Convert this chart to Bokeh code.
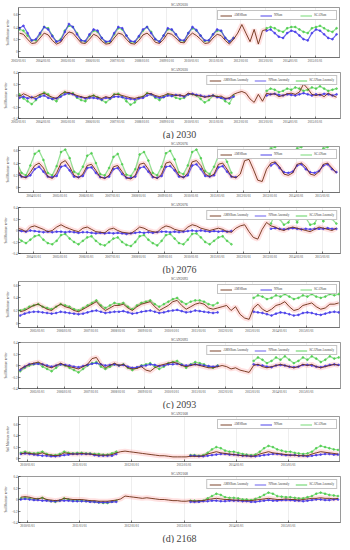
import pandas as pd
from bokeh.plotting import figure
from bokeh.models import (Range1d, FixedTicker, DatetimeTickFormatter, Legend,
                          LegendItem, Title, ColumnDataSource)
from bokeh.layouts import column
from bokeh.embed import file_html
from bokeh.resources import INLINE

nan = float("nan")

# ---------------- data ----------------
# (a) SCAN2030 : bimonthly from 2003-01
a_start = "2003-01-01"
a_years = list(range(2003, 2016))
a_amsr = [0.30,0.28,0.20,0.13,0.14,0.22, 0.30,0.27,0.18,0.12,0.15,0.25,
          0.32,0.30,0.22,0.14,0.13,0.20, 0.28,0.25,0.17,0.12,0.13,0.22,
          0.30,0.28,0.20,0.13,0.12,0.18, 0.27,0.30,0.24,0.15,0.13,0.20,
          0.30,0.28,0.22,0.15,0.14,0.24, 0.30,0.26,0.20,0.13,0.14,0.22,
          0.28,0.26,0.18,0.12,0.20,0.30, 0.44,0.30,0.16,0.36,0.12,0.34,
          0.36,nan,nan,nan,nan,nan, nan,nan,nan,nan,nan,nan,
          nan,nan,nan,nan,nan,nan]
a_nn = [0.38,0.42,0.30,0.18,0.20,0.30, 0.40,0.36,0.25,0.16,0.18,0.32,
        0.45,0.40,0.28,0.18,0.17,0.28, 0.36,0.34,0.22,0.16,0.17,0.30,
        0.40,0.38,0.26,0.17,0.16,0.25, 0.36,0.40,0.30,0.20,0.16,0.26,
        0.38,0.36,0.28,0.19,0.18,0.30, 0.40,0.35,0.26,0.18,0.18,0.28,
        0.36,0.34,0.22,0.16,0.22,nan, nan,nan,nan,nan,nan,nan,
        0.34,0.36,0.30,0.24,0.22,0.30, 0.34,0.32,0.26,0.20,0.18,0.30,
        0.36,0.34,0.28,0.22,0.20,0.28]
a_scan = [0.36,0.34,0.26,0.18,0.18,0.28, 0.40,0.38,0.26,0.16,0.20,0.34,
          0.42,0.40,0.30,0.18,0.16,0.26, 0.34,0.32,0.22,0.15,0.16,0.28,
          0.38,0.36,0.26,0.16,0.15,0.24, 0.34,0.40,0.32,0.20,0.16,0.26,
          0.36,0.35,0.28,0.18,0.17,0.30, 0.38,0.34,0.26,0.17,0.18,0.28,
          0.34,0.33,0.22,0.16,0.22,nan, nan,nan,nan,nan,nan,nan,
          0.38,0.40,0.38,0.34,0.32,0.38, 0.40,0.40,0.36,0.32,0.30,0.38,
          0.40,0.42,0.38,0.34,0.32,0.38]
a_amsr_anom = [-0.02,0.03,0.00,-0.04,-0.02,0.02, 0.04,0.00,-0.03,-0.05,0.02,0.06,
               0.05,0.03,0.00,-0.02,-0.04,-0.02, 0.00,-0.03,-0.05,-0.02,-0.04,0.02,
               0.02,0.00,-0.02,-0.04,-0.05,-0.03, -0.02,0.04,0.03,0.00,-0.02,0.00,
               0.03,0.02,0.00,0.01,-0.01,0.04, 0.02,0.00,-0.01,-0.03,-0.02,0.00,
               -0.02,-0.01,-0.05,-0.04,0.02,0.05, 0.07,0.04,-0.06,-0.12,0.02,-0.10,
               0.04,0.02,0.03,-0.02,0.00,0.03, 0.04,0.02,0.06,0.20,0.12,0.02,
               0.00,0.02,-0.02,0.04,0.00,-0.03]
a_nn_anom = [-0.04,-0.02,-0.05,-0.03,-0.06,-0.02, 0.00,-0.04,-0.06,-0.05,-0.02,0.02,
             0.04,0.02,-0.02,-0.03,-0.05,-0.04, -0.04,-0.05,-0.07,-0.04,-0.05,-0.02,
             -0.02,-0.03,-0.05,-0.06,-0.07,-0.05, -0.04,0.00,0.02,-0.02,-0.04,-0.03,
             0.00,-0.01,0.01,0.00,-0.02,0.02, 0.03,0.01,0.00,-0.02,-0.01,0.00,
             -0.03,-0.04,-0.06,-0.05,-0.02,nan, nan,nan,nan,nan,nan,nan,
             0.00,0.02,0.03,0.01,0.00,0.02, 0.01,0.00,0.02,0.04,0.02,0.00,
             0.02,0.01,0.03,0.02,0.00,0.02]
a_scan_anom = [0.02,-0.05,-0.10,-0.15,-0.08,0.00, 0.05,0.02,-0.06,-0.10,0.00,0.06,
               0.03,0.04,-0.04,-0.08,-0.10,-0.02, 0.00,-0.03,-0.08,-0.12,-0.06,0.02,
               0.03,-0.02,-0.10,-0.16,-0.12,-0.04, -0.02,0.04,0.02,-0.04,-0.08,-0.02,
               0.02,0.00,-0.04,-0.06,-0.04,0.02, 0.02,0.00,-0.06,-0.12,-0.08,0.00,
               -0.02,-0.04,-0.10,-0.14,0.00,nan, nan,nan,nan,nan,nan,nan,
               0.08,0.12,0.10,0.06,0.08,0.12, 0.10,0.14,0.12,0.08,0.10,0.14,
               0.12,0.16,0.12,0.08,0.10,0.12]

# (b) SCAN2076 : bimonthly from 2003-05
b_start = "2003-05-01"
b_years = list(range(2004, 2016))
b_amsr = [0.30,0.18,0.16,0.25,
          0.36,0.40,0.32,0.18,0.15,0.24, 0.40,0.44,0.34,0.20,0.16,0.22,
          0.36,0.38,0.28,0.17,0.15,0.20, 0.34,0.36,0.26,0.16,0.14,0.20,
          0.38,0.40,0.30,0.18,0.15,0.22, 0.40,0.42,0.32,0.20,0.16,0.24,
          0.42,0.44,0.36,0.22,0.18,0.22, 0.38,0.40,0.30,0.18,0.16,0.22,
          0.44,0.46,0.30,0.12,0.10,0.30, 0.40,0.42,0.34,0.22,0.20,0.24,
          0.38,0.40,0.34,0.22,0.20,0.26,
          0.38,0.40,0.32,0.24]
b_nn = [0.26,0.18,0.17,0.20,
        0.30,0.34,0.26,0.18,0.17,0.19, 0.34,0.36,0.28,0.18,0.17,0.19,
        0.32,0.33,0.24,0.17,0.16,0.18, 0.30,0.32,0.22,0.16,0.16,0.18,
        0.32,0.34,0.26,0.17,0.16,0.19, 0.34,0.35,0.28,0.18,0.17,0.20,
        0.36,0.38,0.30,0.19,0.18,0.20, 0.33,0.35,0.26,0.18,0.17,nan,
        nan,nan,nan,nan,nan,nan, 0.36,0.40,0.32,0.25,0.24,0.26,
        0.36,0.38,0.30,0.25,0.24,0.27,
        0.36,0.38,0.30,0.25]
b_scan = [0.40,0.24,0.20,0.36,
          0.55,0.60,0.45,0.24,0.20,0.35, 0.58,0.62,0.48,0.26,0.22,0.34,
          0.52,0.56,0.40,0.22,0.20,0.32, 0.50,0.55,0.38,0.21,0.19,0.30,
          0.54,0.58,0.44,0.24,0.20,0.34, 0.56,0.60,0.46,0.25,0.22,0.36,
          0.58,0.62,0.48,0.27,0.22,0.34, 0.52,0.56,0.42,0.24,nan,nan,
          nan,nan,nan,nan,nan,nan, 0.64,0.66,nan,nan,nan,nan,
          0.64,0.66,nan,nan,nan,nan,
          0.64,0.66,nan,nan]
b_amsr_anom = [0.04,0.02,-0.02,0.06,
               0.08,0.05,0.02,-0.02,0.00,0.06, 0.10,0.06,0.03,0.00,-0.02,0.04,
               0.06,0.02,-0.02,-0.03,-0.04,0.02, 0.04,0.00,-0.03,-0.04,-0.05,0.00,
               0.06,0.04,0.00,-0.02,-0.03,0.04, 0.08,0.06,0.02,0.00,-0.01,0.06,
               0.10,0.08,0.04,0.02,0.00,0.02, 0.04,0.02,-0.02,-0.03,0.04,0.08,
               0.10,-0.02,-0.12,-0.15,0.02,0.14, 0.08,0.06,0.02,0.00,0.04,0.06,
               0.04,0.02,0.00,-0.02,0.02,0.06,
               0.04,0.02,0.00,0.04]
b_nn_anom = [0.00,-0.01,-0.02,0.00,
             -0.01,-0.02,-0.03,-0.02,-0.03,-0.02, -0.02,-0.03,-0.02,-0.03,-0.04,-0.03,
             -0.03,-0.04,-0.05,-0.04,-0.05,-0.04, -0.05,-0.04,-0.05,-0.06,-0.05,-0.04,
             -0.03,-0.04,-0.03,-0.04,-0.03,-0.02, -0.02,-0.03,-0.02,-0.03,-0.02,-0.01,
             0.00,-0.01,0.00,-0.01,-0.02,-0.01, -0.02,-0.01,-0.02,-0.01,nan,nan,
             nan,nan,nan,nan,nan,nan, 0.03,0.04,0.03,0.02,0.03,0.04,
             0.03,0.02,0.03,0.02,0.03,0.03,
             0.03,0.04,0.03,0.03]
b_scan_anom = [-0.12,-0.18,-0.22,-0.16,
               -0.10,-0.08,-0.16,-0.22,-0.24,-0.18, -0.08,-0.06,-0.14,-0.20,-0.24,-0.18,
               -0.12,-0.10,-0.18,-0.24,-0.26,-0.20, -0.14,-0.12,-0.20,-0.25,-0.27,-0.20,
               -0.10,-0.08,-0.16,-0.22,-0.26,-0.18, -0.08,-0.06,-0.14,-0.22,-0.24,-0.16,
               -0.06,-0.05,-0.12,-0.20,-0.24,-0.18, -0.12,-0.10,-0.18,-0.24,nan,nan,
               nan,nan,nan,nan,nan,nan, 0.12,0.30,0.20,0.10,0.14,0.30,
               0.14,0.32,0.22,0.10,0.12,0.28,
               0.16,0.30,0.20,0.12]

# (c) SCAN2093 : bimonthly from 2004-05
c_start = "2004-05-01"
c_years = list(range(2005, 2016))
c_amsr = [0.18,0.20,0.24,0.28,
          0.30,0.26,0.22,0.20,0.26,0.30, 0.26,0.24,0.20,0.18,0.22,0.26,
          0.30,0.34,0.26,0.20,0.24,0.28, 0.28,0.30,0.24,0.20,0.26,0.30,
          0.32,0.34,0.26,0.20,0.24,0.28, 0.34,0.36,0.28,0.22,0.26,0.30,
          0.32,0.30,0.24,0.22,0.24,0.26, 0.28,0.20,0.26,0.14,0.08,0.06,
          0.24,0.30,0.22,0.18,0.22,0.28, 0.30,0.34,0.26,0.20,0.22,0.28,
          0.30,0.32,0.26,0.22,0.24,0.30,
          0.30,0.32]
c_nn = [0.12,0.15,0.17,0.18,
        0.18,0.17,0.16,0.15,0.16,0.18, 0.17,0.16,0.15,0.14,0.15,0.17,
        0.19,0.20,0.18,0.16,0.17,0.18, 0.18,0.19,0.17,0.15,0.16,0.18,
        0.19,0.20,0.18,0.16,0.17,0.19, 0.20,0.21,0.19,0.17,0.18,0.20,
        0.19,0.18,0.17,0.16,0.17,nan, nan,nan,nan,nan,nan,nan,
        0.18,0.17,0.16,0.14,0.12,0.15, 0.17,0.16,0.14,0.12,0.13,0.16,
        0.17,0.16,0.14,0.13,0.15,0.17,
        0.18,0.17]
c_scan = [0.20,0.22,0.26,0.28,
          0.30,0.26,0.24,0.22,0.26,0.30, 0.28,0.26,0.22,0.20,0.24,0.28,
          0.32,0.36,0.28,0.24,0.28,0.32, 0.30,0.32,0.26,0.22,0.28,0.32,
          0.34,0.36,0.30,0.26,0.30,0.34, 0.38,0.40,0.34,0.30,0.34,0.36,
          0.36,0.34,0.30,0.28,0.32,nan, nan,nan,nan,nan,nan,nan,
          0.40,0.44,0.42,0.38,0.40,0.44, 0.42,0.46,0.42,0.38,0.40,0.44,
          0.42,0.46,0.42,0.40,0.42,0.46,
          0.44,0.46]
c_amsr_anom = [-0.06,-0.02,0.02,0.04,
               0.06,0.02,-0.02,-0.04,0.00,0.04, 0.00,-0.02,-0.04,-0.06,-0.02,0.02,
               0.12,0.14,0.02,-0.04,0.00,0.04, 0.00,0.02,-0.04,-0.06,-0.05,-0.02,
               -0.08,-0.10,-0.04,0.00,0.02,0.04, 0.06,0.04,0.00,-0.02,0.00,0.02,
               0.00,-0.02,-0.04,-0.04,-0.02,0.00, -0.02,-0.06,-0.04,-0.08,-0.10,-0.12,
               0.00,0.02,-0.02,-0.04,-0.02,0.00, 0.02,0.00,-0.02,-0.04,-0.02,0.02,
               0.00,0.02,-0.02,-0.04,-0.02,0.00,
               0.02,0.00]
c_nn_anom = [-0.08,-0.02,0.02,0.03,
             0.03,0.02,0.00,-0.02,0.00,0.02, 0.01,0.00,-0.02,-0.03,-0.01,0.01,
             0.03,0.04,0.02,0.00,0.01,0.02, 0.00,0.01,-0.02,-0.04,-0.03,-0.01,
             0.00,0.02,0.01,-0.01,0.00,0.02, 0.02,0.03,0.01,0.00,0.01,0.02,
             0.01,0.00,-0.01,-0.02,-0.01,nan, nan,nan,nan,nan,nan,nan,
             0.02,0.01,0.00,-0.02,-0.03,0.00, 0.01,0.00,-0.02,-0.03,-0.02,0.01,
             0.01,0.00,-0.02,-0.03,-0.01,0.01,
             0.02,0.01]
c_scan_anom = [-0.10,-0.04,0.00,0.02,
               0.04,-0.02,-0.06,-0.10,-0.04,0.02, 0.00,-0.04,-0.08,-0.12,-0.06,0.00,
               0.04,0.06,-0.02,-0.06,-0.02,0.02, 0.00,0.02,-0.04,-0.08,-0.04,0.00,
               0.02,0.04,-0.02,-0.06,-0.02,0.04, 0.06,0.08,0.02,-0.04,0.02,0.06,
               0.04,0.02,-0.02,-0.04,0.00,nan, nan,nan,nan,nan,nan,nan,
               0.08,0.14,0.10,0.04,0.08,0.14, 0.10,0.16,0.10,0.04,0.08,0.14,
               0.10,0.16,0.12,0.06,0.10,0.16,
               0.12,0.14]

# (d) SCAN2168 : monthly from 2009-11
d_start = "2009-11-01"
d_years = list(range(2010, 2016))
d_amsr = [0.08,0.10,
          0.09,0.08,0.08,0.10,0.07,0.06,0.05,0.06,0.10,0.09,0.08,0.08,
          0.09,0.08,0.08,0.07,0.06,0.06,0.06,0.07,0.10,0.12,0.13,0.12,
          0.11,0.10,0.09,0.08,0.07,0.06,0.05,0.05,0.04,0.03,0.03,0.03,
          0.03,0.04,0.04,0.04,0.05,0.08,0.10,0.12,0.10,0.09,0.08,0.07,
          0.06,0.05,0.05,0.04,0.05,0.08,0.10,0.12,0.10,0.09,0.08,0.07,
          0.06,0.06,0.05,0.05,0.05,0.08,0.10,0.12,0.11,0.10,0.09,0.08]
d_nn = [0.08,0.09,
        0.08,0.07,0.06,0.05,0.05,0.04,0.04,0.05,0.06,0.07,0.08,0.08,
        0.08,0.08,0.08,0.06,0.05,0.05,0.05,0.05,0.08,nan,nan,nan,
        nan,nan,nan,nan,nan,nan,nan,nan,nan,nan,nan,nan,
        nan,0.05,0.05,0.04,0.04,0.05,0.06,0.07,0.08,0.08,0.07,0.07,
        0.06,0.05,0.05,0.04,0.04,0.05,0.06,0.07,0.08,0.08,0.07,0.06,
        0.06,0.06,0.05,0.05,0.04,0.05,0.06,0.07,0.08,0.08,0.07,0.07]
d_scan = [0.10,0.12,
          0.10,0.09,0.10,0.12,0.08,0.06,0.06,0.08,0.12,0.10,0.09,0.10,
          0.10,0.09,0.09,0.08,0.08,0.07,0.07,0.09,0.12,nan,nan,nan,
          nan,nan,nan,nan,nan,nan,nan,nan,nan,nan,nan,nan,
          nan,0.06,0.06,0.05,0.06,0.10,0.16,0.20,0.18,0.14,0.12,0.12,
          0.10,0.08,0.07,0.06,0.07,0.12,0.18,0.22,0.20,0.16,0.14,0.12,
          0.12,0.10,0.09,0.08,0.09,0.12,0.18,0.22,0.20,0.18,0.16,0.15]
d_amsr_anom = [0.04,0.05,
               0.04,0.02,0.01,0.03,0.00,-0.01,-0.02,-0.01,0.02,0.01,0.00,0.00,
               0.00,-0.01,-0.02,-0.02,-0.03,-0.03,-0.03,-0.02,-0.01,0.01,0.06,0.05,
               0.04,0.03,0.02,0.03,0.02,0.01,0.00,0.00,-0.01,-0.02,-0.02,-0.03,
               -0.03,-0.02,-0.03,-0.02,-0.02,0.00,0.01,0.02,0.01,0.00,0.00,-0.01,
               -0.01,-0.02,-0.02,-0.02,-0.01,0.00,0.01,0.02,0.01,0.00,0.00,0.01,
               0.00,0.00,-0.01,0.00,0.01,0.02,0.02,0.03,0.02,0.02,0.01,0.02]
d_nn_anom = [0.00,0.01,
             0.00,-0.01,-0.01,-0.02,-0.02,-0.03,-0.03,-0.02,-0.02,-0.02,-0.03,-0.03,
             -0.03,-0.03,-0.04,-0.04,-0.05,-0.05,-0.05,-0.04,-0.04,nan,nan,nan,
             nan,nan,nan,nan,nan,nan,nan,nan,nan,nan,nan,nan,
             nan,-0.04,-0.04,-0.04,-0.03,-0.03,-0.02,-0.02,-0.03,-0.03,-0.02,-0.02,
             -0.02,-0.03,-0.03,-0.04,-0.04,-0.03,-0.02,-0.01,-0.02,-0.02,-0.01,-0.01,
             -0.01,-0.02,-0.02,-0.03,-0.02,-0.01,0.00,0.00,-0.01,-0.01,0.00,0.00]
d_scan_anom = [0.02,0.03,
               0.02,0.00,0.01,0.03,-0.01,-0.03,-0.04,-0.02,0.02,0.00,-0.02,-0.02,
               -0.02,-0.03,-0.03,-0.04,-0.05,-0.06,-0.06,-0.04,-0.02,nan,nan,nan,
               nan,nan,nan,nan,nan,nan,nan,nan,nan,nan,nan,nan,
               nan,-0.02,-0.02,-0.03,-0.02,0.02,0.06,0.10,0.08,0.04,0.03,0.03,
               0.02,0.00,0.00,-0.01,0.01,0.04,0.08,0.12,0.10,0.06,0.05,0.04,
               0.04,0.03,0.02,0.02,0.04,0.06,0.10,0.12,0.10,0.08,0.07,0.06]

top_ticks = [0, 0.2, 0.4, 0.6]
anom_ticks = [-0.4, -0.2, 0, 0.2, 0.4]

# ---------------- styling ----------------
BROWN = "#6e2f14"
PINK = "#ff9a9a"
BLUE = "#4338e8"
GREEN = "#3cc83c"
SERIF = "Liberation Serif"
FW = 322


def times(start, n, freq):
    return pd.date_range(start, periods=n, freq=freq) + pd.Timedelta(days=14)


def panel(title, start, freq, amsr, nn, scan, xr, yr, yticks, years, labels,
          frame_h, bottom=8, caption=None):
    assert len(amsr) == len(nn) == len(scan)
    src = ColumnDataSource(dict(t=times(start, len(amsr), freq),
                                amsr=amsr, nn=nn, scan=scan))
    p = figure(frame_width=FW, frame_height=frame_h, x_axis_type="datetime",
               output_backend="svg", toolbar_location=None,
               x_range=Range1d(pd.Timestamp(xr[0]), pd.Timestamp(xr[1])),
               y_range=Range1d(*yr),
               min_border_left=10, min_border_right=2,
               min_border_top=6, min_border_bottom=bottom,
               background_fill_color="white", border_fill_color="white")
    p.title.text = title
    p.title.align = "center"
    p.title.text_font = SERIF
    p.title.text_font_size = "3.6px"
    p.title.text_font_style = "normal"
    p.title.standoff = 1
    p.outline_line_color = "#555555"
    p.outline_line_width = 0.6

    p.line("t", "amsr", source=src, color=PINK, line_width=5, alpha=0.3)
    p.scatter("t", "scan", source=src, size=1.8, color=GREEN, alpha=0.6)
    l_scan = p.line("t", "scan", source=src, color=GREEN, line_width=1.3, alpha=0.55)
    p.scatter("t", "nn", source=src, size=1.8, color=BLUE, alpha=0.7)
    l_nn = p.line("t", "nn", source=src, color=BLUE, line_width=1.2, alpha=0.8)
    l_amsr = p.line("t", "amsr", source=src, color=BROWN, line_width=1.0, alpha=0.9)

    tick_ms = [pd.Timestamp(f"{y}-01-01").value / 1e6 for y in years]
    p.xaxis.ticker = FixedTicker(ticks=tick_ms)
    fmt = "%Y/%m/%d"
    p.xaxis.formatter = DatetimeTickFormatter(
        years=fmt, months=fmt, days=fmt, hours=fmt, minutes=fmt,
        seconds=fmt, milliseconds=fmt, microseconds=fmt, hourmin=fmt,
        minsec=fmt)
    p.yaxis.ticker = FixedTicker(ticks=yticks)
    p.yaxis.axis_label = "Soil Moisture m\u00b3/m\u00b3"
    for ax in (p.xaxis, p.yaxis):
        ax.major_label_text_font = SERIF
        ax.major_label_text_font_size = "3.2px"
        ax.axis_label_text_font = SERIF
        ax.axis_label_text_font_size = "3.2px"
        ax.axis_label_text_font_style = "normal"
        ax.axis_label_standoff = 1
        ax.major_label_standoff = 1
        ax.major_tick_in = 2
        ax.major_tick_out = 0
        ax.minor_tick_line_color = None
        ax.axis_line_color = "#555555"
        ax.axis_line_width = 0.6
        ax.major_tick_line_width = 0.5
    p.xgrid.grid_line_color = "#bbbbbb"
    p.xgrid.grid_line_dash = "1 1"
    p.xgrid.grid_line_width = 0.5
    p.ygrid.grid_line_color = None

    legend = Legend(items=[LegendItem(label=labels[0], renderers=[l_amsr]),
                           LegendItem(label=labels[1], renderers=[l_nn]),
                           LegendItem(label=labels[2], renderers=[l_scan])],
                    orientation="horizontal", location="top_right",
                    label_text_font=SERIF, label_text_font_size="3.2px",
                    glyph_width=12, glyph_height=3, label_height=3,
                    label_width=20, label_standoff=2, spacing=6,
                    padding=2, margin=3, border_line_color="#888888",
                    border_line_width=0.5, background_fill_alpha=1)
    p.add_layout(legend)
    if caption:
        p.add_layout(Title(text=caption, align="center", text_font=SERIF,
                           text_font_size="10px", text_font_style="normal",
                           standoff=0), "below")
    return p


L1 = ["AMSRsm", "NNsm", "SCANsm"]
L2 = ["AMSRsm Anomaly", "NNsm Anomaly", "SCANsm Anomaly"]

figs = [
    panel("SCAN2030", a_start, "2MS", a_amsr, a_nn, a_scan,
          ("2003-01-01", "2016-01-12"), (-0.1, 0.72), top_ticks, a_years, L1, 50),
    panel("SCAN2030", a_start, "2MS", a_amsr_anom, a_nn_anom, a_scan_anom,
          ("2003-01-01", "2016-01-12"), (-0.4, 0.4), anom_ticks, a_years, L2, 46,
          bottom=21, caption="(a) 2030"),
    panel("SCAN2076", b_start, "2MS", b_amsr, b_nn, b_scan,
          ("2003-06-03", "2015-09-10"), (-0.08, 0.67), top_ticks, b_years, L1, 46),
    panel("SCAN2076", b_start, "2MS", b_amsr_anom, b_nn_anom, b_scan_anom,
          ("2003-06-03", "2015-09-10"), (-0.4, 0.4), anom_ticks, b_years, L2, 46,
          bottom=21, caption="(b) 2076"),
    panel("SCAN2093", c_start, "2MS", c_amsr, c_nn, c_scan,
          ("2004-04-22", "2016-04-08"), (-0.07, 0.66), top_ticks, c_years, L1, 46),
    panel("SCAN2093", c_start, "2MS", c_amsr_anom, c_nn_anom, c_scan_anom,
          ("2004-04-22", "2016-04-08"), (-0.4, 0.4), anom_ticks, c_years, L2, 46,
          bottom=21, caption="(c) 2093"),
    panel("SCAN2168", d_start, "MS", d_amsr, d_nn, d_scan,
          ("2009-10-30", "2016-01-01"), (-0.05, 0.73), top_ticks, d_years, L1, 45),
    panel("SCAN2168", d_start, "MS", d_amsr_anom, d_nn_anom, d_scan_anom,
          ("2009-10-30", "2016-01-01"), (-0.4, 0.4), anom_ticks, d_years, L2, 46,
          bottom=21, caption="(d) 2168"),
]

layout = column(*figs, spacing=0)
open("out.html", "w").write(file_html(layout, INLINE))
